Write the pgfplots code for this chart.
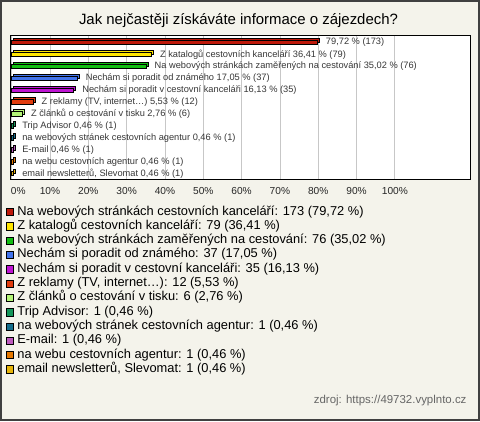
\documentclass[border=0pt]{standalone}
\usepackage{fontspec}
\setmainfont{Liberation Sans}
\usepackage{pgfplots}
\pgfplotsset{compat=1.18}
\definecolor{bgc}{RGB}{244,243,235}
\definecolor{c1}{RGB}{190,25,10}
\definecolor{c2}{RGB}{255,230,0}
\definecolor{c3}{RGB}{20,190,20}
\definecolor{c4}{RGB}{65,115,235}
\definecolor{c5}{RGB}{190,20,210}
\definecolor{c6}{RGB}{225,60,15}
\definecolor{c7}{RGB}{180,245,120}
\definecolor{c8}{RGB}{20,150,90}
\definecolor{c9}{RGB}{21,110,140}
\definecolor{c10}{RGB}{190,90,190}
\definecolor{c11}{RGB}{230,120,0}
\definecolor{c12}{RGB}{230,180,10}
\definecolor{lbl}{RGB}{55,55,55}
\newcommand\cat[5]{%
  \addplot[fill=#1, draw=black, line width=0.7bp, bar shift=1.2bp, xshift=2bp, forget plot] coordinates {(#2,#3)};
  \addplot[fill=#1, draw=black, line width=0.7bp, bar shift=-0.8bp, nodes near coords={#4}] coordinates {(#2,#3)};
  \addlegendentry{#5}
}
\begin{document}
\begin{tikzpicture}[x=1bp,y=1bp]
\useasboundingbox (0,0) rectangle (480,421);
\draw[fill=bgc, draw=black!75, line width=2bp] (1,1) rectangle (479,420);
\node[anchor=base, font=\fontsize{15}{18}\selectfont] at (238.5,396) {Jak nejčastěji získáváte informace o zájezdech?};
\node[anchor=base east, font=\fontsize{11.5}{13}\selectfont, text=black!60] at (470,17.5) {zdroj: https://49732.vyplnto.cz};
\begin{axis}[
  scale only axis, width=460bp, height=143.6bp,
  at={(10.7bp,241.7bp)}, anchor=south west,
  xbar, bar width=4.5bp,
  xmin=-0.26, xmax=119.8, ymin=0.45, ymax=12.5,
  xtick={0,10,20,30,40,50,60,70,80,90,100},
  xticklabels={\hspace*{13bp}0\%,10\%,20\%,30\%,40\%,50\%,60\%,70\%,80\%,90\%,100\%},
  ytick=\empty,
  major tick length=0pt,
  xmajorgrids, grid style={draw=black!22, line width=0.8bp},
  axis background/.style={fill=white},
  axis line style={line width=1.2bp},
  tick label style={font=\fontsize{10.2}{12}\selectfont, text=black!85},
  /pgf/number format/assume math mode=true,
  xticklabel style={yshift=-5bp},
  nodes near coords style={anchor=west, inner sep=0pt, xshift=8.5bp, font=\fontsize{9.3}{11}\selectfont, text=lbl},
  legend image code/.code={\draw[#1, draw=black, line width=0.7bp] (0bp,-3.6bp) rectangle (7.3bp,3.7bp);},
  legend cell align=left,
  legend style={at={(axis description cs:-0.0109,-0.178)}, anchor=north west, draw=none, fill=none, inner sep=0pt,
    font=\fontsize{12.9}{15}\selectfont, nodes={inner sep=1bp, text height=9bp, text depth=3.3bp},
    /tikz/every odd column/.append style={column sep=2.5bp}},
]
\cat{c1}{79.72}{12}{79,72 \% (173)}{Na webových stránkách cestovních kanceláří: 173 (79,72 \%)}
\cat{c2}{36.41}{11}{Z katalogů cestovních kanceláří 36,41 \% (79)}{Z katalogů cestovních kanceláří: 79 (36,41 \%)}
\cat{c3}{35.02}{10}{Na webových stránkách zaměřených na cestování 35,02 \% (76)}{Na webových stránkách zaměřených na cestování: 76 (35,02 \%)}
\cat{c4}{17.05}{9}{Nechám si poradit od známého 17,05 \% (37)}{Nechám si poradit od známého: 37 (17,05 \%)}
\cat{c5}{16.13}{8}{Nechám si poradit v cestovní kanceláři 16,13 \% (35)}{Nechám si poradit v cestovní kanceláři: 35 (16,13 \%)}
\cat{c6}{5.53}{7}{Z reklamy (TV, internet…) 5,53 \% (12)}{Z reklamy (TV, internet…): 12 (5,53 \%)}
\cat{c7}{2.76}{6}{Z článků o cestování v tisku 2,76 \% (6)}{Z článků o cestování v tisku: 6 (2,76 \%)}
\cat{c8}{0.46}{5}{Trip Advisor 0,46 \% (1)}{Trip Advisor: 1 (0,46 \%)}
\cat{c9}{0.46}{4}{na webových stránek cestovních agentur 0,46 \% (1)}{na webových stránek cestovních agentur: 1 (0,46 \%)}
\cat{c10}{0.46}{3}{E-mail 0,46 \% (1)}{E-mail: 1 (0,46 \%)}
\cat{c11}{0.46}{2}{na webu cestovních agentur 0,46 \% (1)}{na webu cestovních agentur: 1 (0,46 \%)}
\cat{c12}{0.46}{1}{email newsletterů, Slevomat 0,46 \% (1)}{email newsletterů, Slevomat: 1 (0,46 \%)}
\end{axis}
\end{tikzpicture}
\end{document}
